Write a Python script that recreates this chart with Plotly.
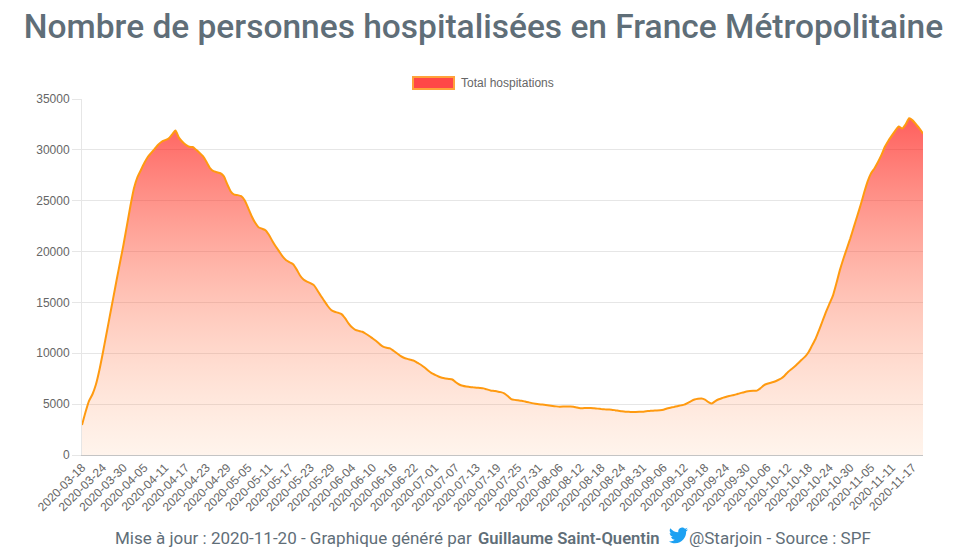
import math
import pandas as pd
import plotly.graph_objects as go

# ---------------- data ----------------
START_DATE = "2020-03-18"
END_DATE = "2020-11-20"
MISSING_DATES = ["2020-06-27", "2020-06-28", "2020-06-29", "2020-08-29"]
DATES = [d.strftime("%Y-%m-%d") for d in pd.date_range(START_DATE, END_DATE)
         if d.strftime("%Y-%m-%d") not in MISSING_DATES]

TOTAL_HOSPITALISATIONS = [
    2950, 4200, 5300, 5950, 6900, 8300, 10000, 11800, 13600, 15400,
    17200, 18950, 20700, 22600, 24500, 26200, 27300, 28000, 28700, 29300,
    29700, 30100, 30500, 30800, 30950, 31100, 31500, 31900, 31200, 30800,
    30500, 30300, 30280, 30000, 29700, 29350, 28800, 28200, 27900, 27800,
    27700, 27400, 26600, 25900, 25600, 25550, 25450, 25050, 24300, 23500,
    22850, 22400, 22250, 22100, 21650, 21050, 20500, 20000, 19500, 19150,
    18950, 18750, 18250, 17650, 17250, 17050, 16900, 16700, 16200, 15650,
    15150, 14650, 14250, 14080, 13980, 13850, 13450, 12950, 12550, 12300,
    12200, 12120, 11920, 11700, 11450, 11200, 10900, 10650, 10550, 10480,
    10250, 10000, 9750, 9560, 9450, 9360, 9260, 9050, 8850, 8600,
    8300, 8050, 7880, 7720, 7600, 7530, 7480, 7420, 7150, 6930,
    6800, 6730, 6690, 6650, 6620, 6590, 6550, 6450, 6350, 6300,
    6250, 6180, 6060, 5800, 5500, 5420, 5380, 5340, 5260, 5180,
    5100, 5040, 4990, 4960, 4920, 4870, 4820, 4780, 4750, 4760,
    4780, 4760, 4740, 4660, 4600, 4610, 4630, 4620, 4590, 4560,
    4520, 4490, 4470, 4460, 4410, 4350, 4290, 4250, 4240, 4230,
    4230, 4240, 4260, 4300, 4330, 4360, 4380, 4400, 4450, 4570,
    4650, 4720, 4800, 4880, 4950, 5120, 5300, 5450, 5520, 5550,
    5450, 5200, 5060, 5300, 5480, 5600, 5710, 5800, 5880, 5960,
    6060, 6150, 6240, 6290, 6310, 6330, 6550, 6850, 7000, 7100,
    7200, 7350, 7520, 7800, 8170, 8450, 8720, 9050, 9380, 9700,
    10150, 10800, 11450, 12300, 13200, 14100, 14900, 15700, 16900, 18200,
    19300, 20300, 21300, 22400, 23500, 24600, 25800, 26900, 27700, 28200,
    28800, 29500, 30300, 30900, 31400, 31900, 32300, 32100, 32500, 33100,
    32900, 32500, 32100, 31600,
]

SERIES_NAME = "Total hospitations"
TITLE = "Nombre de personnes hospitalisées en France Métropolitaine"
FOOTER_PART1 = "Mise à jour : 2020-11-20 - Graphique généré par"
FOOTER_AUTHOR = "Guillaume Saint-Quentin"
FOOTER_PART2 = "@Starjoin - Source : SPF"
Y_TICKS = [0, 5000, 10000, 15000, 20000, 25000, 30000, 35000]
TICK_STEP = 6
X_TICKS = DATES[::TICK_STEP]

# ---------------- style ----------------
TEXT_GREY = "#5f6e78"
AXIS_GREY = "#666666"
GRID = "#e6e6e6"
LINE_ORANGE = "#ff9a10"


def twitter_bird_path(scale):
    """Twitter bird outline (24x24 icon units) -> pixel offsets, y up."""
    segs = []
    segs.append(("M", [(23.953, 4.57)]))
    segs.append(("L", [(21.128, 5.345)]))
    segs.append(("L", [(23.291, 2.622)]))
    segs.append(("C", [(22.34, 3.177), (21.286, 3.581), (20.164, 3.806)]))
    p0 = (20.164, 3.806)
    p1 = (11.78, 8.288)
    r = 4.92
    mx, my = (p0[0] + p1[0]) / 2, (p0[1] + p1[1]) / 2
    dx, dy = p1[0] - p0[0], p1[1] - p0[1]
    ch = math.hypot(dx, dy)
    h = math.sqrt(max(r * r - (ch / 2) ** 2, 0))
    nx, ny = -dy / ch, dx / ch
    if ny < 0:
        nx, ny = -nx, -ny
    cx, cy = mx + nx * h, my + ny * h
    a0 = math.atan2(p0[1] - cy, p0[0] - cx)
    a1 = math.atan2(p1[1] - cy, p1[0] - cx)
    while a1 > a0:
        a1 -= 2 * math.pi
    for k in range(1, 13):
        a = a0 + (a1 - a0) * k / 12
        segs.append(("L", [(cx + r * math.cos(a), cy + r * math.sin(a))]))
    segs.append(("C", [(7.69, 8.095), (4.067, 6.13), (1.64, 3.162)]))
    segs.append(("L", [(0.974, 5.637)]))
    segs.append(("C", [(0.974, 7.347), (1.844, 8.85), (3.162, 9.733)]))
    segs.append(("L", [(0.934, 9.117)]))
    segs.append(("L", [(0.934, 9.177)]))
    segs.append(("C", [(1.1, 11.6), (2.7, 13.4), (4.88, 14.004)]))
    segs.append(("L", [(2.668, 14.089)]))
    segs.append(("C", [(3.3, 16.0), (5.1, 17.4), (7.272, 17.506)]))
    segs.append(("C", [(5.5, 18.9), (3.4, 19.611), (1.17, 19.611)]))
    segs.append(("C", [(0.78, 19.611), (0.391, 19.588), (0.0, 19.544)]))
    segs.append(("C", [(2.2, 20.95), (4.8, 21.753), (7.557, 21.753)]))
    segs.append(("C", [(16.61, 21.753), (21.555, 14.257), (21.555, 7.768)]))
    segs.append(("C", [(21.555, 7.558), (21.555, 7.348), (21.54, 7.138)]))
    segs.append(("L", [(24.0, 4.59)]))
    out = []
    for cmd, pts in segs:
        coords = " ".join(f"{(x - 12) * scale:.2f},{(12.2 - y) * scale:.2f}" for x, y in pts)
        out.append(f"{cmd}{coords}")
    return " ".join(out) + " Z"


fig = go.Figure()
fig.add_trace(go.Scatter(
    x=DATES,
    y=TOTAL_HOSPITALISATIONS,
    name=SERIES_NAME,
    mode="lines",
    line=dict(color=LINE_ORANGE, width=2, shape="spline", smoothing=0.5),
    fill="tozeroy",
    fillgradient=dict(
        type="vertical",
        colorscale=[[0, "rgba(255,170,110,0.13)"], [1, "rgba(255,0,0,0.68)"]],
        start=0,
        stop=35000,
    ),
    showlegend=False,
    hoverinfo="x+y",
))

# The page body has an 8px margin: screen px = figure px + 8.
OFF = 8
W, H = 960, 560
# Target plot area on screen: x 82..923, y 99..455
L, R, T, B = 82 - OFF, W - (923 - OFF), 99 - OFF, H - (455 - OFF)
PW, PH = W - L - R, H - T - B


def px_x(px):
    return (px - OFF - L) / PW


def px_y(py):
    return (H - B - (py - OFF)) / PH


shapes = [
    dict(type="rect", xref="paper", yref="paper",
         x0=px_x(413), x1=px_x(454), y0=px_y(89), y1=px_y(77),
         fillcolor="#ff4747", line=dict(color="#ffa23a", width=2)),
    dict(type="path", xref="paper", yref="paper",
         xsizemode="pixel", ysizemode="pixel",
         xanchor=px_x(678.5), yanchor=px_y(535.5),
         path=twitter_bird_path(0.8),
         fillcolor="#1da1f2", line=dict(width=0)),
]

FOOT_FONT = dict(family="Roboto, sans-serif", size=17, color=TEXT_GREY)
annotations = [
    dict(text=SERIES_NAME, xref="paper", yref="paper",
         x=px_x(459), y=px_y(83), xanchor="left", yanchor="middle",
         showarrow=False,
         font=dict(family="Liberation Sans, Arial, sans-serif", size=12, color=AXIS_GREY)),
    dict(text=FOOTER_PART1,
         xref="paper", yref="paper", x=px_x(474), y=px_y(538),
         xanchor="right", yanchor="middle", showarrow=False, font=FOOT_FONT),
    dict(text=FOOTER_AUTHOR,
         xref="paper", yref="paper", x=px_x(476), y=px_y(538),
         xanchor="left", yanchor="middle", showarrow=False,
         font=dict(family="Roboto, sans-serif", size=16.6, color=TEXT_GREY, weight=600)),
    dict(text=FOOTER_PART2,
         xref="paper", yref="paper", x=px_x(687), y=px_y(538),
         xanchor="left", yanchor="middle", showarrow=False, font=FOOT_FONT),
]

fig.update_layout(
    width=W, height=H,
    margin=dict(l=L, r=R, t=T, b=B),
    paper_bgcolor="white",
    plot_bgcolor="white",
    title=dict(text=TITLE, x=(483.5 - OFF) / W, xref="container", xanchor="center",
               y=1 - (26 - OFF) / H, yref="container", yanchor="middle",
               font=dict(family="Roboto, sans-serif", size=33.5, color=TEXT_GREY, weight=500)),
    shapes=shapes,
    annotations=annotations,
    xaxis=dict(
        type="category",
        range=[0, len(DATES) - 1],
        tickmode="array",
        tickvals=X_TICKS,
        ticktext=X_TICKS,
        tickangle=-45,
        tickfont=dict(family="Liberation Sans, Arial, sans-serif", size=12, color=AXIS_GREY),
        showgrid=False,
        showline=True,
        linecolor="#c4c4c4",
        linewidth=1,
        ticks="",
        layer="above traces",
        zeroline=False,
    ),
    yaxis=dict(
        range=[0, 35000],
        tickvals=Y_TICKS,
        tickformat="d",
        tickfont=dict(family="Liberation Sans, Arial, sans-serif", size=12, color=AXIS_GREY),
        showgrid=True,
        gridcolor=GRID,
        gridwidth=1,
        showline=True,
        linecolor=GRID,
        ticks="outside",
        ticklen=9,
        tickcolor=GRID,
        zeroline=False,
    ),
    hovermode="x",
)

fig.write_html("out.html")
